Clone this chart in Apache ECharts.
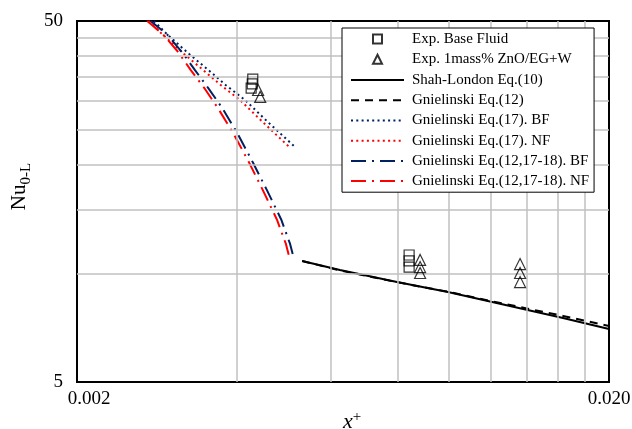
<!DOCTYPE html>
<html>
<head>
<meta charset="utf-8">
<script src="https://cdn.jsdelivr.net/npm/echarts@6/dist/echarts.min.js"></script>
<style>html,body{margin:0;padding:0;background:#fff;}#c{width:632px;height:429px;}</style>
</head>
<body>
<div id="c"></div>
<script>
// ---- data ----
const xTickValues = [0.002, 0.02];
const xTickLabels = ['0.002', '0.020'];
const yTickValues = [5, 50];
const yTickLabels = ['5', '50'];
const xGridValues = [0.004, 0.006, 0.008, 0.010, 0.012, 0.014, 0.016, 0.018];
const yGridValues = [10, 15, 20, 25, 30, 35, 40, 45];

const markerNames = ['Exp. Base Fluid', 'Exp. 1mass% ZnO/EG+W'];
const lineNames = ['Shah-London Eq.(10)', 'Gnielinski Eq.(12)',
  'Gnielinski Eq.(17). BF', 'Gnielinski Eq.(17). NF', 'Gnielinski Eq.(12,17-18). BF', 'Gnielinski Eq.(12,17-18). NF'];

const bfExpX = [0.00428, 0.00427, 0.00425, 0.00842, 0.00842, 0.00842];
const bfExpY = [34.5, 33.5, 32.6, 11.24, 10.82, 10.41];
const nfExpX = [0.00438, 0.00442, 0.00883, 0.00883, 0.00883, 0.01361, 0.01361, 0.01361];
const nfExpY = [32.2, 30.8, 10.89, 10.41, 10.02, 10.61, 10.02, 9.46];

const shahX = [0.00530, 0.00624, 0.00799, 0.00996, 0.01195, 0.01639, 0.0200];
const shahY = [10.82, 10.21, 9.46, 8.88, 8.36, 7.52, 7.01];
const gn12X = [0.00530, 0.00624, 0.00799, 0.00996, 0.01195, 0.01639, 0.0200];
const gn12Y = [10.82, 10.19, 9.45, 8.89, 8.39, 7.62, 7.15];

const gn17BFX = [0.00279, 0.00295, 0.00325, 0.00353, 0.00381, 0.00414, 0.00455, 0.00512];
const gn17BFY = [50, 46.0, 40.5, 36.6, 33.2, 30.2, 26.4, 22.5];
const gn17NFX = [0.00273, 0.00289, 0.00318, 0.00345, 0.00373, 0.00405, 0.00445, 0.00501];
const gn17NFY = [50, 46.0, 40.5, 36.6, 33.2, 30.2, 26.4, 22.4];

const gnCombBFX = [0.00275, 0.00295, 0.00315, 0.00333, 0.00353, 0.00375, 0.00400, 0.00428, 0.00455, 0.00484, 0.00503, 0.00512];
const gnCombBFY = [50, 46.0, 41.0, 36.6, 32.6, 28.7, 24.5, 20.3, 17.0, 14.1, 12.06, 10.89];
const gnCombNFX = [0.00271, 0.00290, 0.00310, 0.00327, 0.00347, 0.00368, 0.00393, 0.00421, 0.00447, 0.00475, 0.00494, 0.00503];
const gnCombNFY = [50, 46.0, 41.0, 36.6, 32.6, 28.7, 24.5, 20.3, 17.0, 14.1, 12.06, 10.89];

// ---- build ----
const zip = (xs, ys) => xs.map((x, i) => [x, ys[i]]);
const FONT = '"Liberation Serif", "DejaVu Serif", serif';
const NAVY = '#002060';
const RED = '#ff0000';
const X_MIN = xTickValues[0], X_MAX = xTickValues[1];
const Y_MIN = yTickValues[0], Y_MAX = yTickValues[1];

function pickLabel(v, vals, labels) {
  for (let i = 0; i < vals.length; i++) {
    if (Math.abs(v - vals[i]) / vals[i] < 1e-6) return labels[i];
  }
  return '';
}

function lineSeries(name, xs, ys, color, type, width) {
  return {
    name: name, type: 'line', data: zip(xs, ys), symbol: 'none', showSymbol: false,
    z: 4, silent: true,
    lineStyle: { color: color, type: type, width: width, cap: 'butt' },
    itemStyle: { color: color }
  };
}

const gridLines = xGridValues.map(v => [{ coord: [v, Y_MIN] }, { coord: [v, Y_MAX] }])
  .concat(yGridValues.map(v => [{ coord: [X_MIN, v] }, { coord: [X_MAX, v] }]));

const chart = echarts.init(document.getElementById('c'), null, { renderer: 'canvas' });
chart.setOption({
  animation: false,
  backgroundColor: '#fff',
  textStyle: { fontFamily: FONT, color: '#000' },
  grid: { left: 77, right: 23, top: 21, bottom: 47, show: true, borderColor: '#000', borderWidth: 2,
    containLabel: false, outerBoundsMode: 'none' },
  xAxis: {
    type: 'log', logBase: 10, min: X_MIN, max: X_MAX,
    splitLine: { show: false }, axisTick: { show: false },
    axisLine: { show: true, lineStyle: { color: '#000', width: 2 } },
    axisLabel: {
      fontFamily: FONT, fontSize: 19, color: '#000', margin: 8,
      formatter: function (v) {
        const s = pickLabel(v, xTickValues, xTickLabels);
        if (!s) return '';
        return s === xTickLabels[0] ? '{a|' + s + '}' : '{b|' + s + '}';
      },
      rich: {
        a: { fontFamily: FONT, fontSize: 19, color: '#000', padding: [0, 0, 0, 24] },
        b: { fontFamily: FONT, fontSize: 19, color: '#000' }
      }
    },
    name: '{a|x}{b|+}', nameLocation: 'middle', nameGap: 28, nameMoveOverlap: false,
    nameTextStyle: {
      padding: [0, 0, 0, 18],
      rich: {
        a: { fontFamily: FONT, fontSize: 22, fontStyle: 'italic', color: '#000' },
        b: { fontFamily: FONT, fontSize: 15, color: '#000', padding: [0, 0, 10, 0] }
      }
    }
  },
  yAxis: {
    type: 'log', logBase: 10, min: Y_MIN, max: Y_MAX,
    splitLine: { show: false }, axisTick: { show: false },
    axisLine: { show: true, lineStyle: { color: '#000', width: 2 } },
    axisLabel: {
      fontFamily: FONT, fontSize: 19, color: '#000', margin: 14,
      formatter: function (v) { return pickLabel(v, yTickValues, yTickLabels); }
    },
    name: '{a|Nu}{b|0-L}', nameLocation: 'middle', nameGap: 42, nameRotate: 90,
    nameTextStyle: {
      padding: [0, 0, 0, 30],
      rich: {
        a: { fontFamily: FONT, fontSize: 21, color: '#000' },
        b: { fontFamily: FONT, fontSize: 15, color: '#000', padding: [12, 0, 0, 0] }
      }
    }
  },
  legend: [
    {
      left: 342, top: 28, orient: 'vertical',
      data: lineNames.map(n => ({ name: n, itemStyle: { opacity: 0 } })),
      backgroundColor: '#fff', borderColor: '#000', borderWidth: 1,
      padding: [42, 5, 1, 8],
      itemWidth: 53, itemHeight: 9, itemGap: 0,
      textStyle: { fontFamily: FONT, fontSize: 15, color: '#000', lineHeight: 20.2, padding: [0, 0, 0, 3] },
      selectedMode: false, z: 10
    },
    {
      left: 372, top: 29, orient: 'vertical',
      data: markerNames,
      padding: 0,
      itemWidth: 9, itemHeight: 9, itemGap: 0,
      textStyle: { fontFamily: FONT, fontSize: 15, color: '#000', lineHeight: 20.2, padding: [0, 0, 0, 25] },
      selectedMode: false, z: 11
    }
  ],
  series: [
    {
      name: '__grid', type: 'line', data: [], z: 1, silent: true,
      markLine: {
        silent: true, symbol: 'none', animation: false,
        label: { show: false },
        lineStyle: { color: '#c0c0c0', type: 'solid', width: 1.5 },
        emphasis: { disabled: true },
        data: gridLines
      }
    },
    lineSeries(lineNames[0], shahX, shahY, '#000', 'solid', 2),
    lineSeries(lineNames[1], gn12X, gn12Y, '#000', [8, 6], 2),
    lineSeries(lineNames[2], gn17BFX, gn17BFY, NAVY, [2, 3.3], 2),
    lineSeries(lineNames[3], gn17NFX, gn17NFY, RED, [2, 3.3], 2),
    lineSeries(lineNames[4], gnCombBFX, gnCombBFY, NAVY, [15, 6, 2, 6], 2),
    lineSeries(lineNames[5], gnCombNFX, gnCombNFY, RED, [15, 6, 2, 6], 2),
    {
      name: markerNames[0], type: 'scatter', data: zip(bfExpX, bfExpY), z: 5,
      symbol: 'rect', symbolSize: 10, silent: true,
      itemStyle: { color: 'rgba(255,255,255,0)', borderColor: '#000', borderWidth: 1.2 }
    },
    {
      name: markerNames[1], type: 'scatter', data: zip(nfExpX, nfExpY), z: 5,
      symbol: 'triangle', symbolSize: 11, silent: true,
      itemStyle: { color: 'rgba(255,255,255,0)', borderColor: '#000', borderWidth: 1.2 }
    }
  ]
});
</script>
</body>
</html>
